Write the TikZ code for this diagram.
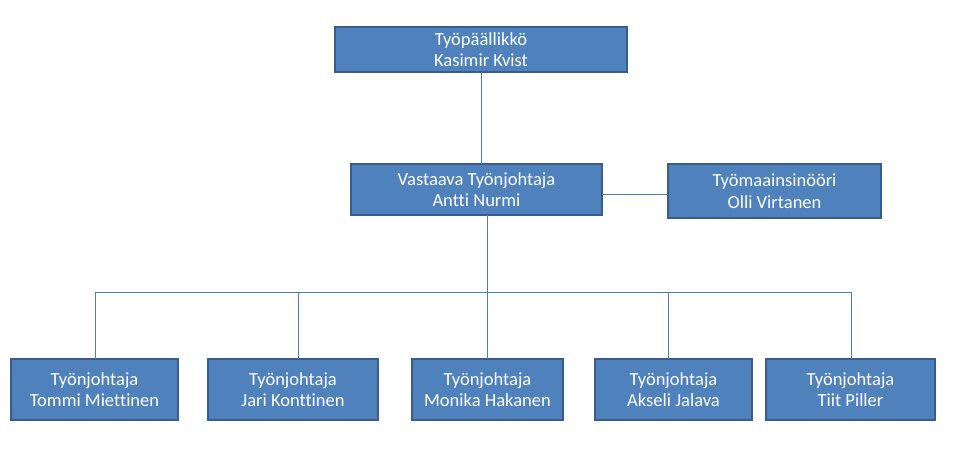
\documentclass[tikz,border=0pt]{standalone}
\usepackage{fontspec}
\setmainfont{Carlito}[Ligatures={NoCommon}]
\definecolor{boxfill}{HTML}{4F81BD}
\definecolor{boxline}{HTML}{385D8A}
\definecolor{conn}{HTML}{4A7EBB}
\begin{document}
\begin{tikzpicture}[x=1pt,y=-1pt,
  orgbox/.style={draw=boxline,line width=2.2pt,fill=boxfill,text=white,
    align=center,inner sep=0pt,font=\fontsize{18.5}{21.5}\selectfont},
  link/.style={draw=conn,line width=1pt}]
\useasboundingbox (0,0) rectangle (960,463);
\newcommand\orgnode[6]{%
  \node[orgbox,minimum width={#3-#2},minimum height={#5-#4}] (#1) at ({(#2+#3)/2},{(#4+#5)/2}) {#6};}
\orgnode{top}{335}{627}{27}{72}{Työpäällikkö\\Kasimir Kvist}
\orgnode{mid}{351}{602}{164}{215}{Vastaava Työnjohtaja\\Antti Nurmi}
\orgnode{eng}{668}{881}{164}{218}{Työmaainsinööri\\Olli Virtanen}
\orgnode{b1}{11}{178}{359}{420}{Työnjohtaja\\Tommi Miettinen}
\orgnode{b2}{208}{378}{359}{420}{Työnjohtaja\\Jari Konttinen}
\orgnode{b3}{412}{563}{359}{420}{Työnjohtaja\\Monika Hakanen}
\orgnode{b4}{595}{752}{359}{420}{Työnjohtaja\\Akseli Jalava}
\orgnode{b5}{766}{935}{359}{420}{Työnjohtaja\\Tiit Piller}
\coordinate (t1) at (481,72);
\coordinate (m1) at (481,164);
\coordinate (m2) at (487,215);
\coordinate (bus) at (487,292);
\coordinate (h1) at (602,194);
\coordinate (h2) at (668,194);
\draw[link] (t1) -- (m1);
\draw[link] (h1) -- (h2);
\draw[link] (m2) -- (bus);
\draw[link] (95,292) -- (851,292);
\foreach \n/\x in {b1/95,b2/298,b3/487,b4/668,b5/851}
  \draw[link] (\x,292) -- (\x,359);
\end{tikzpicture}
\end{document}
